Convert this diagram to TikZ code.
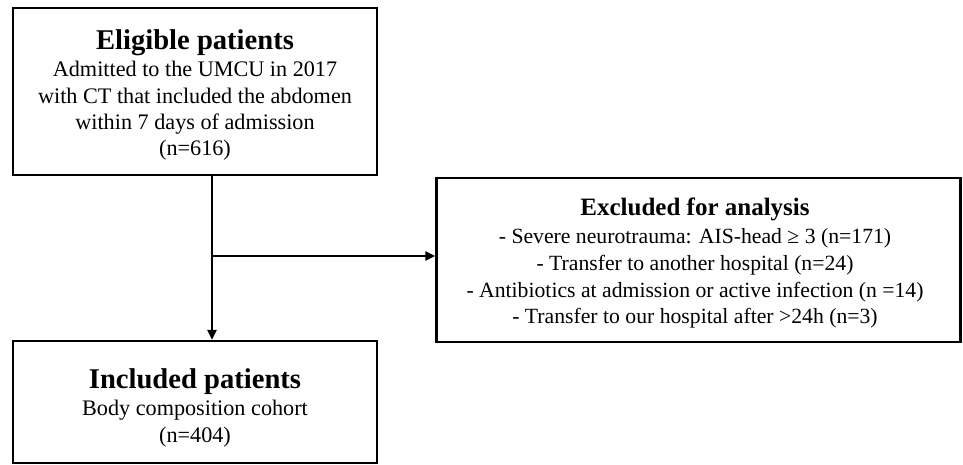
\documentclass[tikz,border=0pt]{standalone}
\usepackage{fontspec}
\setmainfont{Liberation Serif}
\usetikzlibrary{arrows.meta}
\tikzset{
  box/.style={draw=black, line width=2.3pt, rectangle, inner sep=0pt},
  ttl/.style={inner sep=0pt, anchor=base, font=\bfseries\fontsize{28.6}{32}\selectfont},
  ttlx/.style={inner sep=0pt, anchor=base, font=\bfseries\fontsize{25}{30}\selectfont},
  txt/.style={inner sep=0pt, anchor=base, font=\fontsize{22.2}{26}\selectfont},
  txtx/.style={inner sep=0pt, anchor=base, font=\fontsize{21.7}{26}\selectfont},
  conn/.style={line width=2.3pt, -{Triangle[length=10pt,width=9pt]}}
}
\begin{document}
\begin{tikzpicture}[x=1pt,y=-1pt]
\useasboundingbox (0,0) rectangle (963,465);
% boxes
\node[box, minimum width=364pt, minimum height=167pt] (elig) at (195,91.5) {};
\node[box, minimum width=364pt, minimum height=122pt] (incl) at (195,402) {};
\node[box, minimum width=524pt, minimum height=164pt] (excl) at (698.5,260) {};
% texts: eligible
\node[ttl] (eligt) at (195,50) {Eligible patients};
\node[txt] (elig1) at (195,77) {Admitted to the UMCU in 2017};
\node[txt] (elig2) at (195,103.5) {with CT that included the abdomen};
\node[txt] (elig3) at (195,130) {within 7 days of admission};
\node[txt] (elig4) at (195,156) {(n=616)};
% texts: excluded
\node[ttlx] (exclt) at (695,215) {Excluded for analysis};
\node[txtx] (excl1) at (695,243) {- Severe neurotrauma: AIS-head ≥ 3 (n=171)};
\node[txtx] (excl2) at (695,270) {- Transfer to another hospital (n=24)};
\node[txtx] (excl3) at (695,297) {- Antibiotics at admission or active infection (n =14)};
\node[txtx] (excl4) at (695,323) {- Transfer to our hospital after >24h (n=3)};
% texts: included
\node[ttl] (inclt) at (195,388) {Included patients};
\node[txt] (incl1) at (195,415) {Body composition cohort};
\node[txt] (incl2) at (195,442) {(n=404)};
% connectors
\coordinate (split) at (212,256);
\draw[conn] (elig.south -| split) -- (incl.north -| split);
\draw[conn] (split) -- (split -| excl.west);
\end{tikzpicture}
\end{document}
